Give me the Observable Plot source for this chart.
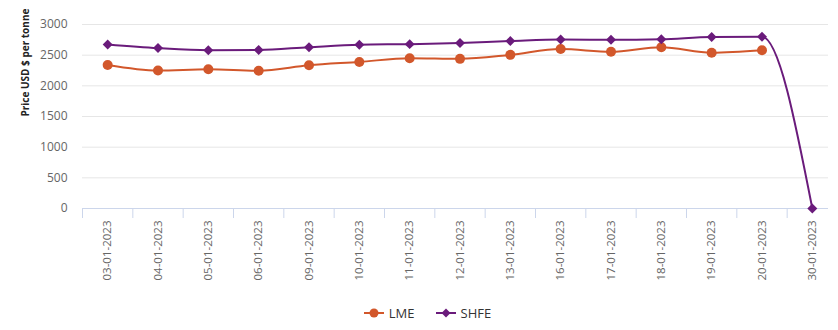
<!DOCTYPE html>
<html>
<head>
<meta charset="utf-8">
<script src="https://cdn.jsdelivr.net/npm/d3@7"></script>
<script src="https://cdn.jsdelivr.net/npm/@observablehq/plot@0.6"></script>
<style>
  html, body { margin: 0; padding: 0; background: #fff; }
  #chart { width: 838px; font-family: "Open Sans", sans-serif; }
  .legend { height: 35px; display: flex; justify-content: center; align-items: center;
            gap: 20px; padding-left: 16px; font-size: 13px; color: #333; }
  .legend span { display: inline-flex; align-items: center; gap: 4px; }
</style>
</head>
<body>
<div id="chart"></div>
<script>
// Trading dates (category axis)
const dates = ["03-01-2023", "04-01-2023", "05-01-2023", "06-01-2023", "09-01-2023",
  "10-01-2023", "11-01-2023", "12-01-2023", "13-01-2023", "16-01-2023",
  "17-01-2023", "18-01-2023", "19-01-2023", "20-01-2023", "30-01-2023"];
// Price, USD per tonne
const lme = [2340, 2250, 2270, 2245, 2335, 2390, 2450, 2440, 2505, 2600, 2555, 2630, 2540, 2580, null];
const shfe = [2675, 2615, 2580, 2585, 2630, 2670, 2680, 2700, 2730, 2755, 2750, 2760, 2795, 2800, 0];
const yTicks = [0, 500, 1000, 1500, 2000, 2500, 3000];

const seriesNames = ["LME", "SHFE"];
const seriesColors = ["#d2572b", "#6a1b7b"];

const lmeRows = lme.map((v, i) => ({i, value: v})).filter(d => d.value != null);
const shfeRows = shfe.map((v, i) => ({i, value: v})).filter(d => d.value != null);

const n = dates.length;
const idx = d3.range(n);

const plot = Plot.plot({
  width: 838,
  height: 295,
  marginLeft: 82,
  marginRight: 10,
  marginTop: 24,
  marginBottom: 87,
  style: {fontFamily: "'Open Sans', sans-serif", background: "#fff"},
  x: {domain: [-0.5, n - 0.5], range: [82, 837]},
  y: {domain: [0, 3000]},
  marks: [
    Plot.gridY(yTicks, {stroke: "#e6e6e6", strokeOpacity: 1}),
    Plot.axisY(yTicks, {tickSize: 0, tickPadding: 15, label: null, fontSize: 12, fill: "#666",
      tickFormat: d => String(d)}),
    Plot.text(["Price USD $ per tonne"], {
      frameAnchor: "left", dx: -57, rotate: -90, fontWeight: "bold", fontSize: 10, fill: "#222"
    }),
    Plot.ruleY([0], {stroke: "#ccd6eb"}),
    // band boundary ticks below the axis line
    Plot.axisX(idx.map(i => i - 0.5), {tickSize: 10, stroke: "#ccd6eb", tickFormat: () => "", label: null}),
    Plot.axisX(idx, {
      tickSize: 0, tickPadding: 12, tickRotate: -90, label: null,
      tickFormat: i => dates[i], fontSize: 11.5, fill: "#666"
    }),
    Plot.line(lmeRows, {x: "i", y: "value", stroke: seriesColors[0], strokeWidth: 2, curve: "monotone-x"}),
    Plot.line(shfeRows, {x: "i", y: "value", stroke: seriesColors[1], strokeWidth: 2, curve: "monotone-x"}),
    Plot.dot(lmeRows, {x: "i", y: "value", r: 5, fill: seriesColors[0], symbol: "circle"}),
    Plot.dot(shfeRows, {x: "i", y: "value", r: 4.5, fill: seriesColors[1], symbol: "diamond2"})
  ]
});

const chart = document.getElementById("chart");
chart.appendChild(plot);

// Legend below the chart
const legend = document.createElement("div");
legend.className = "legend";
const markerSvg = (k) => k === 0
  ? `<svg width="22" height="12"><line x1="1" x2="21" y1="6" y2="6" stroke="${seriesColors[k]}" stroke-width="2"/><circle cx="11" cy="6" r="4.5" fill="${seriesColors[k]}"/></svg>`
  : `<svg width="22" height="12"><line x1="1" x2="21" y1="6" y2="6" stroke="${seriesColors[k]}" stroke-width="2"/><path d="M11 1.5L15.5 6L11 10.5L6.5 6Z" fill="${seriesColors[k]}"/></svg>`;
seriesNames.forEach((name, k) => {
  const item = document.createElement("span");
  item.innerHTML = markerSvg(k) + `<span>${name}</span>`;
  legend.appendChild(item);
});
chart.appendChild(legend);
</script>
</body>
</html>
